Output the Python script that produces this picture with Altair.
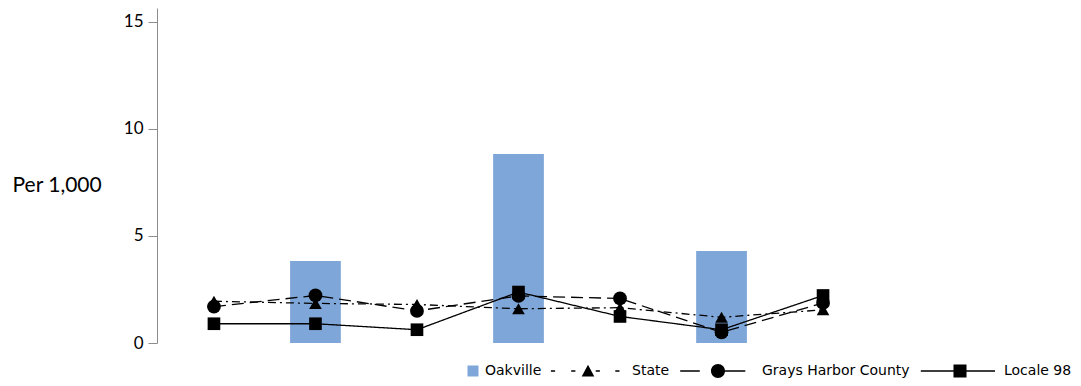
import altair as alt
import pandas as pd

categories = ["1", "2", "3", "4", "5", "6", "7"]
oakville = [None, 3.83, None, 8.83, None, 4.3, None]
state = [1.95, 1.85, 1.8, 1.6, 1.65, 1.2, 1.55]
grays_harbor = [1.7, 2.22, 1.5, 2.2, 2.08, 0.5, 1.87]
locale_98 = [0.9, 0.9, 0.62, 2.38, 1.24, 0.62, 2.22]

line_series = ["State", "Grays Harbor County", "Locale 98"]
line_values = [state, grays_harbor, locale_98]

bar_df = pd.DataFrame({"category": categories, "value": oakville, "series": "Oakville"}).dropna()

rows = []
for name, vals in zip(line_series, line_values):
    for c, v in zip(categories, vals):
        rows.append({"category": c, "value": v, "series": name})
line_df = pd.DataFrame(rows)

x_enc = alt.X("category:N", sort=categories, axis=None,
              scale=alt.Scale(paddingInner=0.5, paddingOuter=0.311))
y_enc = alt.Y("value:Q",
              scale=alt.Scale(domain=[0, 15.65], nice=False, zero=True),
              axis=alt.Axis(values=[0, 5, 10, 15], grid=False, title="Per 1,000",
                            titleAngle=0, titleAlign="left", titleBaseline="middle",
                            titleX=-145, titleY=177, titleFont="Lato", titleFontSize=21,
                            titleFontWeight="normal", titleColor="#000000",
                            labelFont="Lato", labelFontSize=17, labelColor="#000000",
                            labelPadding=5, tickSize=9, tickColor="#8c8c8c",
                            domainColor="#8c8c8c", domainWidth=1, tickWidth=1))

BLUE = "#7EA6D8"

bars = alt.Chart(bar_df).mark_bar(opacity=1).encode(
    x=x_enc, y=y_enc,
    color=alt.Color("series:N", scale=alt.Scale(domain=["Oakville"], range=[BLUE]),
                    legend=alt.Legend(title=None, orient="none", legendX=309, legendY=356,
                                      symbolType="square", symbolSize=121, symbolStrokeWidth=0,
                                      labelOffset=5, labelFont="DejaVu Sans", labelFontSize=14,
                                      labelColor="#000000"))
)

styles = {
    "State": dict(dash=[8, 4, 2, 4], shape="triangle-up", size=160),
    "Grays Harbor County": dict(dash=[12, 6], shape="circle", size=190),
    "Locale 98": dict(dash=[1, 0], shape="square", size=160),
}

layers = [bars]
for name in line_series:
    st = styles[name]
    src = alt.Chart(line_df).transform_filter(alt.datum.series == name)
    layers.append(src.mark_line(color="black", strokeWidth=1.3, strokeDash=st["dash"]).encode(x=x_enc, y="value:Q"))
    layers.append(src.mark_point(shape=st["shape"], filled=True, color="black", size=st["size"], opacity=1).encode(x=x_enc, y="value:Q"))


# legend glyphs: thin filled bars for the (dashed) line plus a solid marker
def seg(a, b, t=0.095):
    return "M{0},{2} L{1},{2} L{1},{3} L{0},{3} Z ".format(a, b, -t, t)


tri = "M0,-0.9 L0.9,0.8 L-0.9,0.8 Z "
circ = "M-1,0 A1,1 0 1,1 1,0 A1,1 0 1,1 -1,0 Z "
sq = "M-0.93,-0.93 L0.93,-0.93 L0.93,0.93 L-0.93,0.93 Z "

path_state = "".join(seg(a, b) for a, b in [(-5.3, -4.7), (-2.4, -1.8), (1.1, 1.7), (3.9, 4.5)]) + tri
path_ghc = "".join(seg(a, b) for a, b in [(-5.4, -2.6), (1.0, 3.9)]) + circ
path_locale = seg(-5.6, 5.0) + sq

legend_layer = alt.Chart(line_df).transform_filter("false").mark_point(
    filled=True, color="black", opacity=1
).encode(
    x=x_enc, y="value:Q",
    shape=alt.Shape("series:N",
                    scale=alt.Scale(domain=line_series, range=[path_state, path_ghc, path_locale]),
                    legend=alt.Legend(title=None, orient="none", legendX=424, legendY=356,
                                      direction="horizontal", symbolSize=196, symbolStrokeWidth=0,
                                      symbolOpacity=1, symbolFillColor="black",
                                      labelOffset=37, columnPadding=10,
                                      labelFont="DejaVu Sans", labelFontSize=14, labelColor="#000000"))
)
layers.append(legend_layer)

chart = alt.layer(*layers).properties(
    width=723, height=335,
    background="white",
    autosize=alt.AutoSizeParams(type="none"),
    padding={"left": 149, "top": 0, "right": 193, "bottom": 35}
).configure_view(strokeWidth=0)

chart.save("out.html", embed_options={"renderer": "svg", "actions": False})
